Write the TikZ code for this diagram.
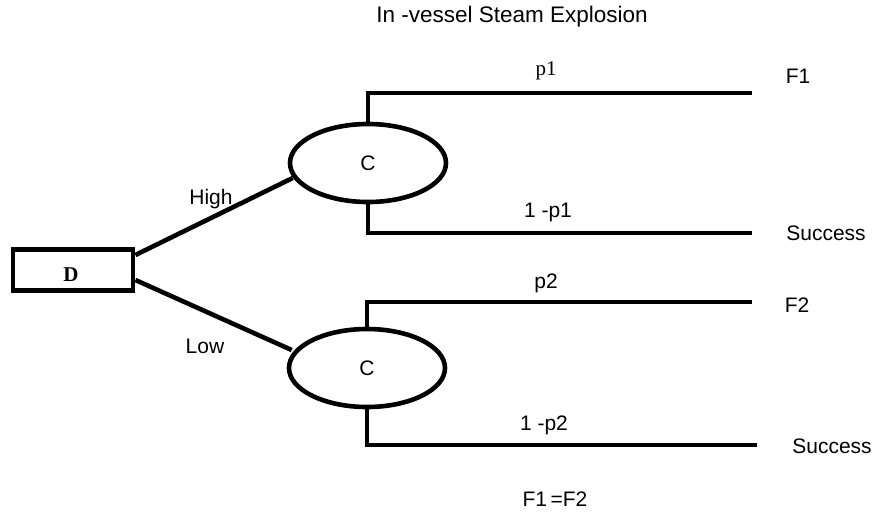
\documentclass[tikz,border=0pt]{standalone}
\usepackage{fontspec}
\setmainfont{Liberation Sans}
\newfontfamily\serifp{Liberation Serif}
\usetikzlibrary{shapes.geometric}
\begin{document}
\begin{tikzpicture}[x=1pt,y=-1pt,
  thick line/.style={line width=4.6pt},
  lbl/.style={font=\fontsize{21}{25}\selectfont, inner sep=0pt},
  slbl/.style={font=\serifp\fontsize{21}{25}\selectfont, inner sep=0pt},
  chance/.style={ellipse, draw, line width=4.6pt, minimum width=156pt, minimum height=78pt, inner sep=0pt, font=\fontsize{21}{25}\selectfont},
  decision/.style={rectangle, draw, line width=4.8pt, minimum width=120pt, minimum height=41pt, inner sep=0pt}]
\useasboundingbox (0,0) rectangle (882,515);
\node[decision] (D) at (73,270) {};
\node[inner sep=0pt, font=\bfseries\serifp\fontsize{21}{24}\selectfont] (Dl) at (71,275) {D};
\node[chance] (C1) at (368,163) {C};
\node[chance] (C2) at (367,368) {C};
\coordinate (e1) at (752,93);
\coordinate (e2) at (752,233);
\coordinate (e3) at (752,302);
\coordinate (e4) at (757,445);
\draw[thick line] ([yshift=15pt]D.east) -- ([xshift=5pt,yshift=-15pt]C1.west);
\draw[thick line] ([yshift=-10pt]D.east) -- ([xshift=5pt,yshift=18pt]C2.west);
\draw[thick line] (C1.north) |- (e1);
\draw[thick line] (C1.south) |- (e2);
\draw[thick line] (C2.north) |- (e3);
\draw[thick line] (C2.south) |- (e4);
\node[lbl, font=\fontsize{22.5}{26}\selectfont] (t) at (512,17) {In -vessel Steam Explosion};
\node[lbl] (hi) at (211,199) {High};
\node[lbl] (lo) at (205,346) {Low};
\node[slbl] (p1) at (546,71) {p1};
\node[lbl] (q1) at (548,212) {1 -p1};
\node[lbl] (p2) at (546,283) {p2};
\node[lbl] (q2) at (544,425) {1 -p2};
\node[lbl] (f1) at (798,76) {F1};
\node[lbl] (s1) at (826,233) {Success};
\node[lbl] (f2) at (797,305) {F2};
\node[lbl] (s2) at (832,446) {Success};
\node[lbl] (eq) at (555,499) {F1\,=F2};
\end{tikzpicture}
\end{document}
